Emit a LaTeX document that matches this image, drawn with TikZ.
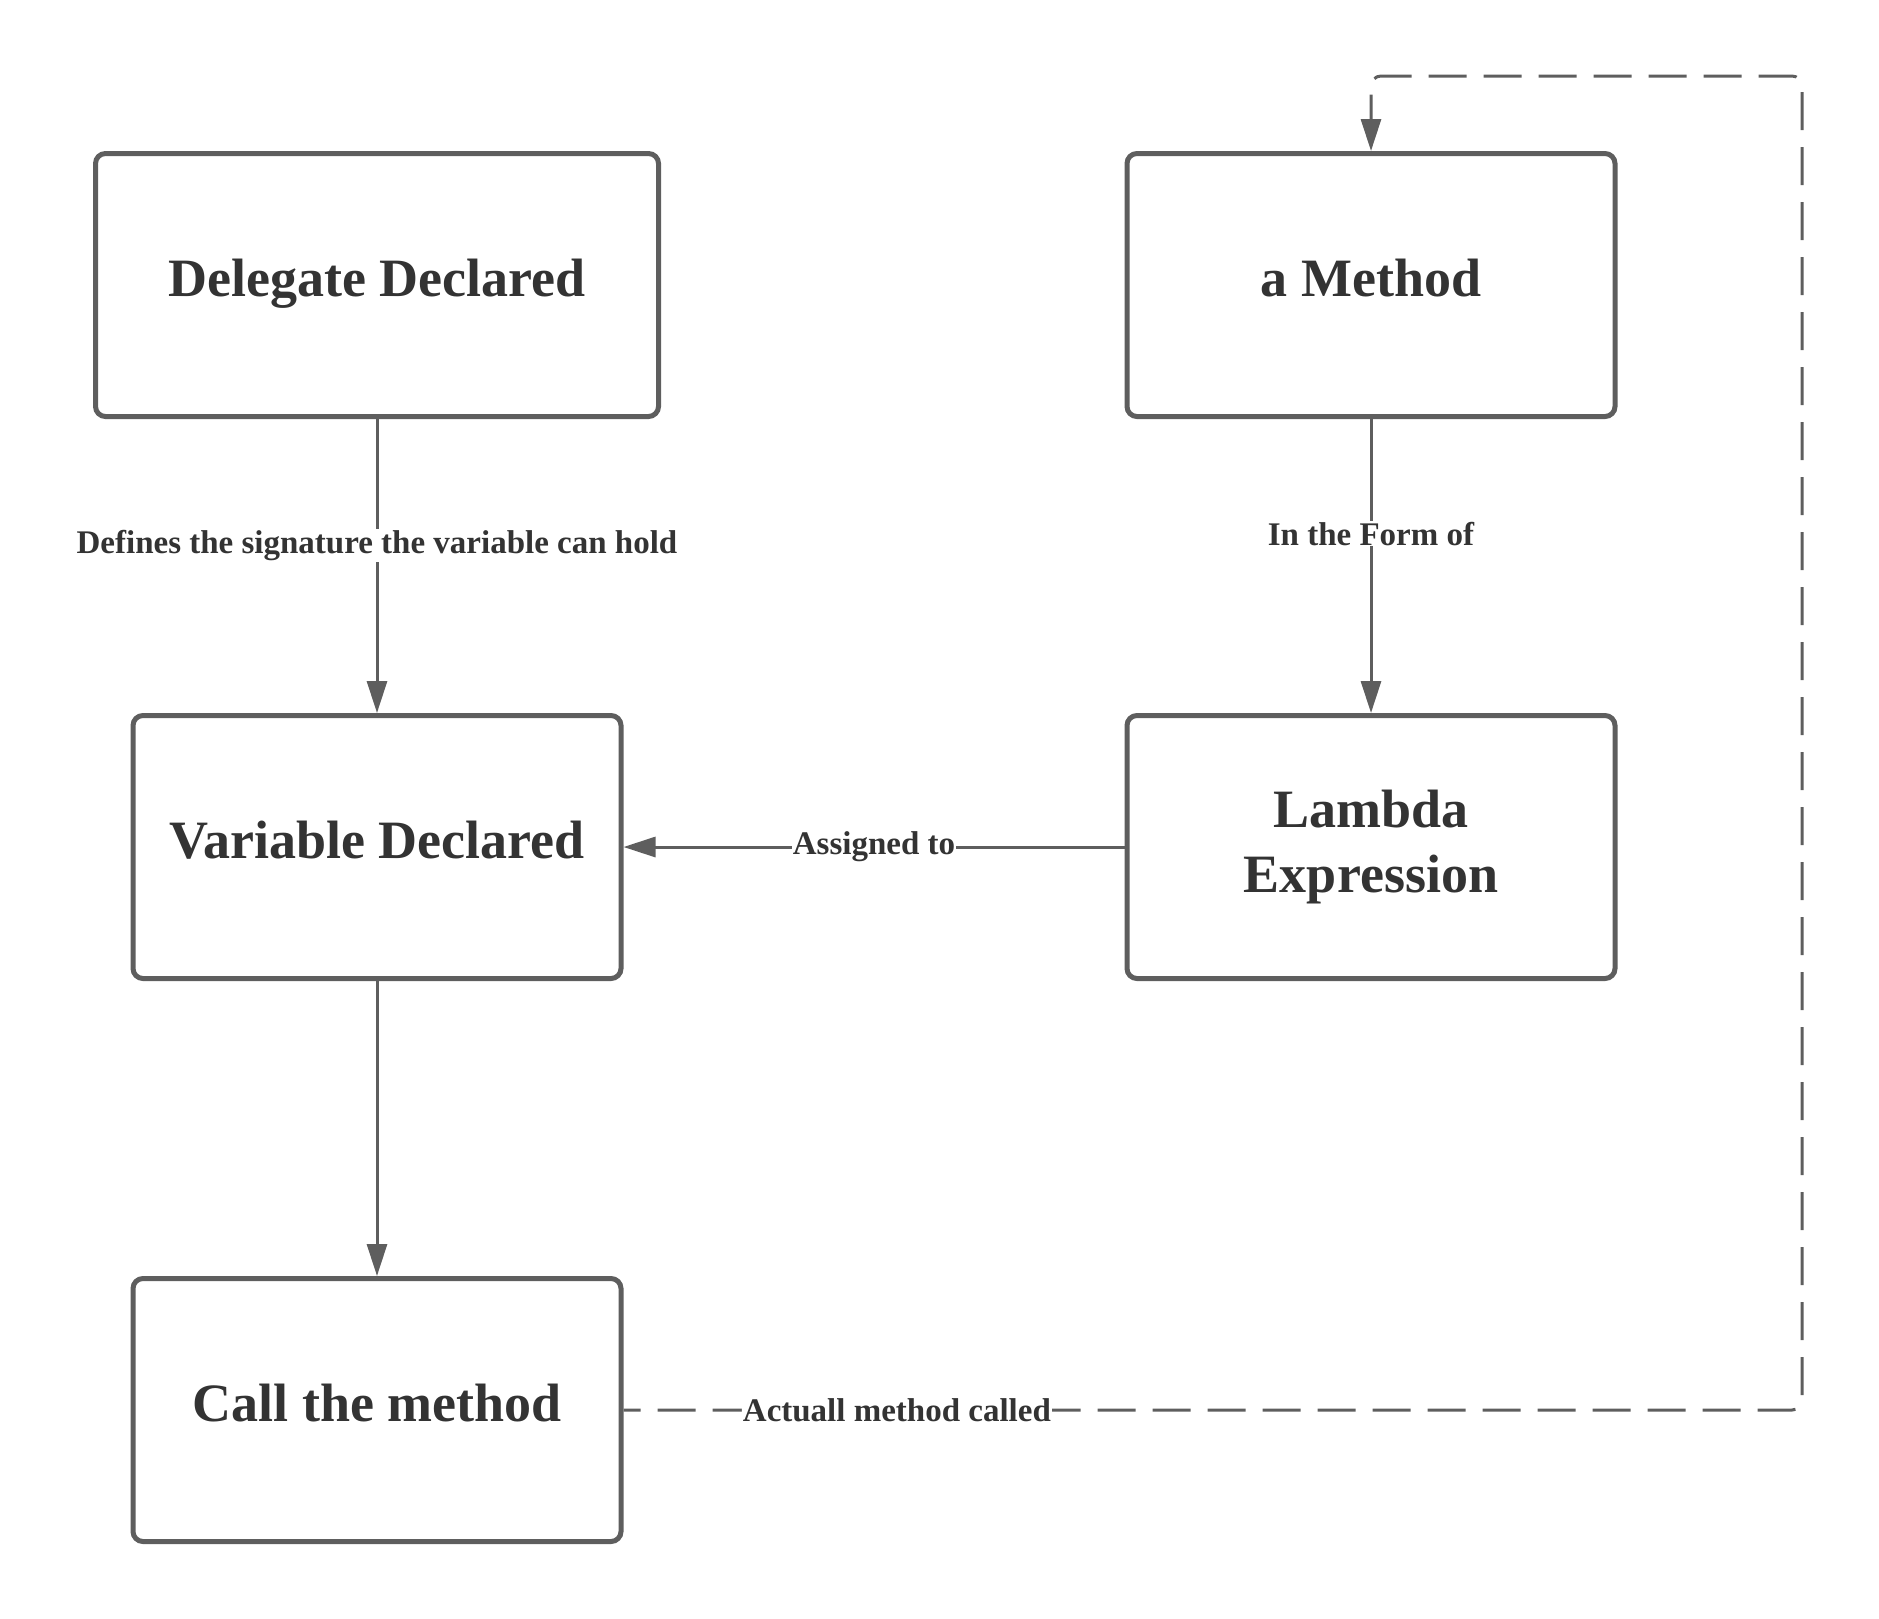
\documentclass[tikz,border=0pt]{standalone}
\usepackage{fontspec}
\setmainfont{Liberation Serif}
\usepackage{tikz}
\usetikzlibrary{shapes}
\usetikzlibrary{arrows.meta}
\usetikzlibrary{positioning}
\definecolor{lineGray}{HTML}{5E5E5E}
\definecolor{textGray}{HTML}{333333}

\begin{document}
\begin{tikzpicture}[x=1pt,y=-1pt]
				\tikzset{block/.style = {shape=rectangle,draw=lineGray,line width=5pt,
						rounded corners=10pt,minimum width=488pt,minimum height=263pt,
						inner sep = 0pt,align=center,text=textGray,
						font=\fontsize{54}{65}\selectfont\bfseries}}
				\tikzset{blockOne/.style = {block,text height=36pt,text depth=14pt}}
				\tikzset{blockWide/.style = {blockOne,minimum width=563pt}}
				\tikzset{edge/.style = {-{Triangle[length=32pt,width=20pt]},draw=lineGray,line width=3pt}}
				\tikzset{edgeDash/.style = {edge,dash pattern=on 38pt off 17pt,dash phase=21pt,rounded corners=10pt}}
				\tikzset{lbl/.style = {fill=white,inner sep=1pt,text=textGray,
						font=\fontsize{33}{38}\selectfont\bfseries}}
				
				\useasboundingbox (0,0) rectangle (1879,1618);
				
				% vertices
				\node[blockWide] (delegate) at (377,285) {Delegate Declared};
				\node[blockOne] (method) at (1371,285) {a Method};
				\node[blockOne] (variable) at (377,847) {Variable Declared};
				\node[block] (lambda) at (1371,847) {Lambda\\Expression};
				\node[blockOne] (call) at (377,1410) {Call the method};
				
				\coordinate (loopA) at (1802,1410);
				\coordinate (loopB) at (1802,76);
				
				%edges
				
				\draw[edge] (delegate) to node[lbl,pos=0.43] {Defines the signature the variable can hold} (variable);
				\draw[edge] (method) to node[lbl,pos=0.39] {In the Form of} (lambda);
				\draw[edge] (lambda) to node[lbl,pos=0.5] {Assigned to} (variable);
				\draw[edge] (variable) to (call);
				\draw[edgeDash] (call.east) -- node[lbl,pos=0.232] {Actuall method called} (loopA) -- (loopB) -| (method.north);
				
				\end{tikzpicture}
\end{document}
